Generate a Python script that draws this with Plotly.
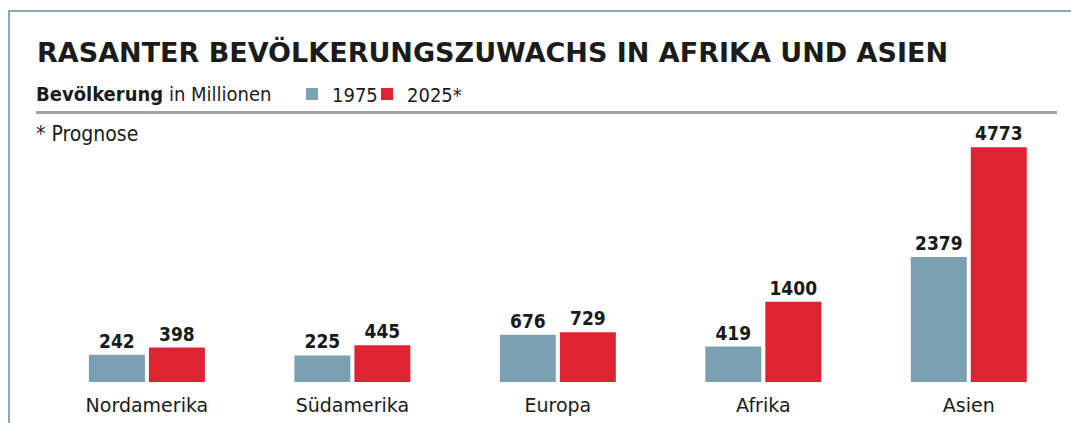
import plotly.graph_objects as go

# ---- data ----
categories = ["Nordamerika", "Südamerika", "Europa", "Afrika", "Asien"]
pop_1975 = [242, 225, 676, 419, 2379]
pop_2025 = [398, 445, 729, 1400, 4773]
series_names = ["1975", "2025*"]

title_text = "RASANTER BEVÖLKERUNGSZUWACHS IN AFRIKA UND ASIEN"
subtitle_text = "<b>Bevölkerung</b> in Millionen"
note_text = "* Prognose"

# ---- style ----
BLUE = "#7ba0b2"
RED = "#df2332"
TXT = "#1b1b1b"
FRAME = "#86aac4"
COND = "DejaVu Sans Condensed, DejaVu Sans, sans-serif"
REG = "DejaVu Sans, sans-serif"

W_FIG, H_FIG = 1071, 423
L, R, T, B = 30, 11, 120, 41
W = W_FIG - L - R
H = H_FIG - T - B
BASE = -356          # the original chart draws bars from an offset baseline below zero
Y_TOP = BASE + H * 21.86


def px_x(px):
    return (px - L) / W


def px_y(py):
    return (T + H - py) / H


fig = go.Figure()
for name, vals, col, leg in [(series_names[0], pop_1975, BLUE, "legend"),
                             (series_names[1], pop_2025, RED, "legend2")]:
    fig.add_trace(go.Bar(
        x=categories, y=[v - BASE for v in vals], base=BASE, name=name,
        marker=dict(color=col, line=dict(width=0)),
        text=[str(v) for v in vals], textposition="outside",
        texttemplate="%{text}",
        textfont=dict(family=COND, size=19, color=TXT, weight="bold"),
        constraintext="none", cliponaxis=False, legend=leg,
        hovertemplate="%{x}: %{text}<extra>" + name + "</extra>",
    ))

shapes = [
    # frame lines
    dict(type="line", xref="paper", yref="paper", x0=px_x(9), x1=px_x(1071), y0=px_y(11), y1=px_y(11),
         line=dict(color=FRAME, width=2)),
    dict(type="line", xref="paper", yref="paper", x0=px_x(9), x1=px_x(9), y0=px_y(10), y1=px_y(423),
         line=dict(color=FRAME, width=2)),
    # gray rule
    dict(type="line", xref="paper", yref="paper", x0=px_x(36), x1=px_x(1057), y0=px_y(112.5), y1=px_y(112.5),
         line=dict(color="#a3a3a3", width=3)),
]

annotations = [
    dict(text=title_text, xref="paper", yref="paper", x=px_x(35), y=px_y(52), xanchor="left", yanchor="middle",
         showarrow=False, font=dict(family=REG, size=27, color=TXT, weight="bold")),
    dict(text=subtitle_text, xref="paper", yref="paper", x=px_x(34), y=px_y(94), xanchor="left", yanchor="middle",
         showarrow=False, font=dict(family=COND, size=20, color=TXT)),
    dict(text=note_text, xref="paper", yref="paper", x=px_x(34), y=px_y(134), xanchor="left", yanchor="middle",
         showarrow=False, font=dict(family=COND, size=21, color=TXT)),
]

legend_common = dict(
    orientation="h", yanchor="middle", y=px_y(94), xanchor="left",
    bgcolor="rgba(0,0,0,0)", borderwidth=0,
    font=dict(family=COND, size=20, color=TXT),
    itemclick=False, itemdoubleclick=False,
)

fig.update_layout(
    width=W_FIG, height=H_FIG,
    margin=dict(l=L, r=R, t=T, b=B, pad=0, autoexpand=False),
    paper_bgcolor="white", plot_bgcolor="white",
    barmode="group", bargap=0.416, bargroupgap=0.067,
    showlegend=True,
    legend=dict(x=px_x(292), **legend_common),
    legend2=dict(x=px_x(367), **legend_common),
    xaxis=dict(
        type="category", range=[-0.569, 4.444], showgrid=False, showline=False, zeroline=False,
        ticks="", tickfont=dict(family=REG, size=19, color=TXT), ticklabelstandoff=10,
        fixedrange=True, automargin=False,
    ),
    yaxis=dict(range=[BASE, Y_TOP], visible=False, fixedrange=True, automargin=False),
    shapes=shapes, annotations=annotations,
)

fig.write_html("out.html")
